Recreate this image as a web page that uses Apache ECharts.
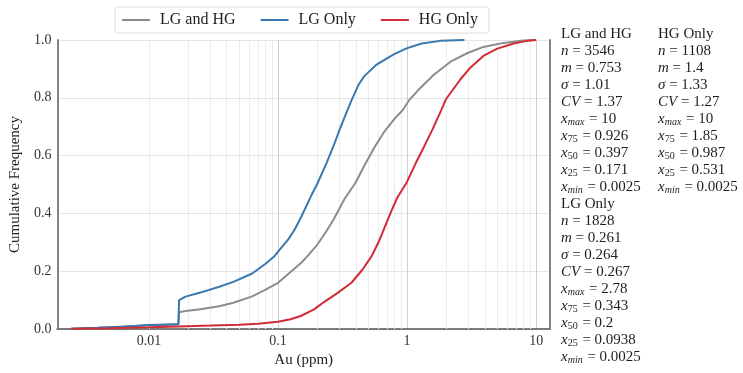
<!DOCTYPE html>
<html>
<head>
<meta charset="utf-8">
<title>Cumulative Frequency of Au (ppm)</title>
<script src="https://cdn.jsdelivr.net/npm/echarts@6/dist/echarts.min.js"></script>
<style>
  html, body { margin: 0; padding: 0; background: #ffffff; }
  #chart { width: 743px; height: 373px; }
</style>
</head>
<body>
<div id="chart"></div>
<script>
// Series names, in legend order
const seriesNames = ['LG and HG', 'LG Only', 'HG Only'];

// Empirical cumulative curves: [Au (ppm), cumulative frequency]
const lgAndHg = [
  [0.0025, 0.001], [0.004, 0.004], [0.006, 0.007], [0.008, 0.010], [0.010, 0.013],
  [0.014, 0.015], [0.0169, 0.016], [0.0171, 0.058], [0.0192, 0.062], [0.025, 0.068],
  [0.035, 0.079], [0.045, 0.091], [0.063, 0.113], [0.080, 0.136], [0.100, 0.160],
  [0.125, 0.197], [0.152, 0.230], [0.171, 0.255], [0.200, 0.290], [0.238, 0.340],
  [0.270, 0.380], [0.327, 0.450], [0.397, 0.505], [0.466, 0.565], [0.560, 0.630],
  [0.660, 0.680], [0.800, 0.728], [0.926, 0.758], [1.03, 0.790], [1.21, 0.825],
  [1.61, 0.880], [2.17, 0.925], [2.94, 0.955], [3.90, 0.976], [5.60, 0.990],
  [8.00, 0.998], [10.0, 1.000]
];
const lgOnly = [
  [0.0025, 0.001], [0.004, 0.004], [0.006, 0.008], [0.008, 0.011], [0.010, 0.014],
  [0.014, 0.016], [0.0169, 0.017], [0.0171, 0.100], [0.0192, 0.112], [0.025, 0.126],
  [0.035, 0.146], [0.045, 0.163], [0.063, 0.192], [0.080, 0.226], [0.0938, 0.252],
  [0.100, 0.268], [0.120, 0.310], [0.135, 0.345], [0.152, 0.390], [0.180, 0.460],
  [0.200, 0.500], [0.238, 0.575], [0.270, 0.635], [0.300, 0.690], [0.343, 0.755],
  [0.370, 0.790], [0.420, 0.845], [0.466, 0.875], [0.580, 0.915], [0.800, 0.952],
  [1.00, 0.972], [1.30, 0.988], [1.80, 0.997], [2.78, 1.000]
];
const hgOnly = [
  [0.0025, 0.001], [0.005, 0.003], [0.010, 0.006], [0.017, 0.009], [0.030, 0.012],
  [0.050, 0.015], [0.070, 0.018], [0.100, 0.025], [0.125, 0.034], [0.150, 0.045],
  [0.190, 0.068], [0.230, 0.095], [0.290, 0.125], [0.370, 0.160], [0.450, 0.205],
  [0.531, 0.252], [0.600, 0.300], [0.660, 0.345], [0.750, 0.405], [0.840, 0.455],
  [0.987, 0.505], [1.17, 0.575], [1.35, 0.630], [1.57, 0.690], [1.85, 0.760],
  [2.00, 0.795], [2.60, 0.865], [3.10, 0.905], [3.90, 0.945], [5.00, 0.970],
  [6.70, 0.988], [8.50, 0.997], [10.0, 1.000]
];

// Axis ranges and labelled ticks
const xRange = [0.00195, 12.8];
const xTickLabels = [0.01, 0.1, 1, 10];
const yRange = [0, 1];
const yTickStep = 0.2;

// Summary statistics per group
const statSymbols = [['n', ''], ['m', ''], ['σ', ''], ['CV', ''], ['x', 'max'], ['x', '75'], ['x', '50'], ['x', '25'], ['x', 'min']];
const statsLgAndHg = ['3546', '0.753', '1.01', '1.37', '10', '0.926', '0.397', '0.171', '0.0025'];
const statsLgOnly = ['1828', '0.261', '0.264', '0.267', '2.78', '0.343', '0.2', '0.0938', '0.0025'];
const statsHgOnly = ['1108', '1.4', '1.33', '1.27', '10', '1.85', '0.987', '0.531', '0.0025'];

const colors = ['#8c8c8c', '#3a78b0', '#d22b36'];
const FONT = 'Liberation Serif';

// Light minor grid lines at 2..9 within each decade
const minorGrid = [];
[0.001, 0.01, 0.1, 1].forEach(function (d) {
  for (let k = 2; k <= 9; k++) {
    const v = k * d;
    if (v > xRange[0] && v < xRange[1]) minorGrid.push({ xAxis: v });
  }
});

// Statistics block as rich-text rows
const rich = {
  tx: { fontFamily: FONT, fontSize: 15, fill: '#1e1e1e', lineHeight: 17 },
  it: { fontFamily: FONT, fontSize: 15, fontStyle: 'italic', fill: '#1e1e1e', lineHeight: 17 },
  subi: { fontFamily: FONT, fontSize: 10, fontStyle: 'italic', fill: '#1e1e1e', padding: [6, 1, 0, 0] },
  subr: { fontFamily: FONT, fontSize: 10, fill: '#1e1e1e', padding: [6, 1, 0, 0] }
};
function statRows(title, values) {
  const rows = ['{tx|' + title + '}'];
  statSymbols.forEach(function (s, i) {
    let t = '{it|' + s[0] + '}';
    if (s[1]) t += (/^\d+$/.test(s[1]) ? '{subr|' : '{subi|') + s[1] + '}';
    t += '{tx| = ' + values[i] + '}';
    rows.push(t);
  });
  return rows;
}
const graphics = [];
function placeColumn(rows, x, firstRow) {
  rows.forEach(function (r, i) {
    graphics.push({
      type: 'text', x: x, y: 34 + 17 * (firstRow + i), silent: true,
      style: { text: r, rich: rich, align: 'left', verticalAlign: 'middle', fontFamily: FONT, fontSize: 15, fill: '#1e1e1e' }
    });
  });
}
placeColumn(statRows('LG and HG', statsLgAndHg), 561, 0);
placeColumn(statRows('LG Only', statsLgOnly), 561, 10);
placeColumn(statRows('HG Only', statsHgOnly), 658, 0);

const frameColor = '#7a7a7a';
const chart = echarts.init(document.getElementById('chart'));
chart.setOption({
  animation: false,
  backgroundColor: '#ffffff',
  textStyle: { fontFamily: FONT },
  grid: { left: 54, right: 193, top: 40, bottom: 43 },
  legend: {
    data: seriesNames,
    left: 115, top: 7,
    padding: [5, 11, 5, 7],
    itemGap: 25, itemWidth: 28, itemHeight: 2,
    icon: 'rect',
    borderColor: '#dcdcdc', borderWidth: 1, borderRadius: 3,
    textStyle: { fontFamily: FONT, fontSize: 16, color: '#222', padding: [0, 0, 0, 5] }
  },
  xAxis: [{
    type: 'log', logBase: 10, min: xRange[0], max: xRange[1],
    name: 'Au (ppm)', nameLocation: 'middle', nameGap: 24,
    nameTextStyle: { fontFamily: FONT, fontSize: 15, color: '#222' },
    axisLine: { show: true, lineStyle: { color: frameColor, width: 1.8 } },
    axisTick: { show: false },
    axisLabel: {
      fontFamily: FONT, fontSize: 14, color: '#333', margin: 5,
      formatter: function (v) {
        const hit = xTickLabels.find(function (t) { return Math.abs(Math.log10(v) - Math.log10(t)) < 1e-6; });
        return hit === undefined ? '' : String(hit);
      }
    },
    splitLine: { show: true, lineStyle: { color: '#cfcfcf', width: 1 } }
  }, {
    type: 'log', logBase: 10, min: xRange[0], max: xRange[1], position: 'top',
    axisLine: { show: true, lineStyle: { color: frameColor, width: 1.8 } },
    axisTick: { show: false }, axisLabel: { show: false }, splitLine: { show: false }
  }],
  yAxis: [{
    type: 'value', min: yRange[0], max: yRange[1], interval: yTickStep,
    name: 'Cumulative Frequency', nameLocation: 'middle', nameGap: 28,
    nameTextStyle: { fontFamily: FONT, fontSize: 15, color: '#222' },
    axisLine: { show: true, lineStyle: { color: frameColor, width: 1.8 } },
    axisTick: { show: false },
    axisLabel: { fontFamily: FONT, fontSize: 14, color: '#333', margin: 6, formatter: function (v) { return v.toFixed(1); } },
    splitLine: { show: true, lineStyle: { color: '#e4e4e4', width: 1 } }
  }, {
    type: 'value', min: yRange[0], max: yRange[1], interval: yTickStep, position: 'right',
    axisLine: { show: true, lineStyle: { color: frameColor, width: 1.8 } },
    axisTick: { show: false }, axisLabel: { show: false }, splitLine: { show: false }
  }],
  graphic: graphics,
  series: [
    {
      type: 'line', data: [], silent: true, z: 1,
      markLine: {
        z: 1, silent: true, symbol: ['none', 'none'], label: { show: false },
        lineStyle: { color: '#ececec', width: 1, type: 'solid' },
        emphasis: { disabled: true },
        data: minorGrid
      }
    },
    { name: seriesNames[0], type: 'line', data: lgAndHg, showSymbol: false, z: 10, lineStyle: { color: colors[0], width: 2 }, itemStyle: { color: colors[0] } },
    { name: seriesNames[1], type: 'line', data: lgOnly, showSymbol: false, z: 11, lineStyle: { color: colors[1], width: 2 }, itemStyle: { color: colors[1] } },
    { name: seriesNames[2], type: 'line', data: hgOnly, showSymbol: false, z: 12, lineStyle: { color: colors[2], width: 2 }, itemStyle: { color: colors[2] } }
  ]
});
</script>
</body>
</html>
